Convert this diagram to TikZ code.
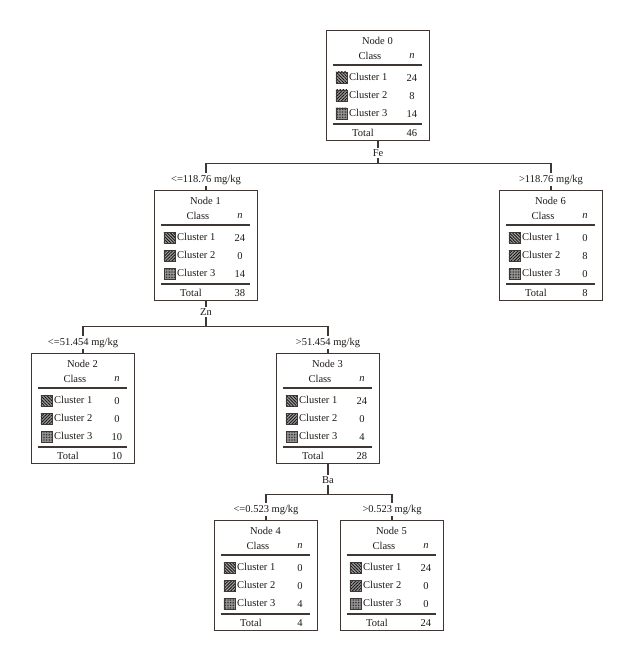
\documentclass[tikz,border=0pt]{standalone}
\usepackage{fontspec}
\setmainfont{Liberation Serif}
\usetikzlibrary{patterns,patterns.meta,positioning}
\definecolor{BoxClr}{RGB}{62,55,52}
\definecolor{TextClr}{RGB}{30,26,24}

\tikzset{
  treebox/.style={draw=BoxClr,line width=1.1pt,minimum width=103pt,minimum height=110pt,anchor=north,inner sep=0pt},
  cell/.style={text=TextClr,font=\fontsize{10.5}{12}\selectfont,inner sep=0pt},
  rule/.style={BoxClr,line width=1.5pt},
  link/.style={BoxClr,line width=1.1pt},
  split/.style={cell,fill=white,inner sep=1.5pt},
  icon/.style={draw=BoxClr,line width=0.4pt,preaction={fill=gray!75},pattern color=black!90},
}

% name, position, title, cluster 1, cluster 2, cluster 3, total
\newcommand{\ClassBox}[7]{%
  \node[treebox] (#1) at (#2) {};
  \begin{scope}[shift={(#1.north west)}]
    \node[cell] at (51.5,11) {#3};
    \node[cell] at (44,26) {Class};
    \node[cell] at (86,26) {\textit{n}};
    \draw[rule] (7,35) -- (96,35);
    \draw[icon,pattern={Lines[angle=-45,distance=2.2pt,line width=0.9pt]}] (10,42) rectangle (21,53);
    \draw[icon,pattern={Lines[angle=45,distance=2.2pt,line width=0.9pt]}] (10,60) rectangle (21,71);
    \draw[icon,pattern={Dots[distance=1.6pt,radius=0.5pt]}] (10,78) rectangle (21,89);
    \node[cell,anchor=west] at (23,47) {Cluster 1};
    \node[cell,anchor=west] at (23,65) {Cluster 2};
    \node[cell,anchor=west] at (23,83) {Cluster 3};
    \node[cell] at (86,48) {#4};
    \node[cell] at (86,66) {#5};
    \node[cell] at (86,84) {#6};
    \draw[rule] (7,94) -- (96,94);
    \node[cell] at (37,103) {Total};
    \node[cell] at (86,103) {#7};
  \end{scope}}

\begin{document}
\begin{tikzpicture}[x=1pt,y=-1pt]
\fill[white] (0,0) rectangle (637,660);
\useasboundingbox (0,0) rectangle (637,660);

\ClassBox{n0}{378,30}{Node 0}{24}{8}{14}{46}
\ClassBox{n1}{206,190}{Node 1}{24}{0}{14}{38}
\ClassBox{n6}{551,190}{Node 6}{0}{8}{0}{8}
\ClassBox{n2}{83,353}{Node 2}{0}{0}{10}{10}
\ClassBox{n3}{328,353}{Node 3}{24}{0}{4}{28}
\ClassBox{n4}{266,520}{Node 4}{0}{0}{4}{4}
\ClassBox{n5}{392,520}{Node 5}{24}{0}{0}{24}

% splits
\draw[link] (n0.south) -- ++(0,22) coordinate (fe) (n1.north) |- (fe) -| (n6.north);
\draw[link] (n1.south) -- ++(0,25) coordinate (zn) (n2.north) |- (zn) -| (n3.north);
\draw[link] (n3.south) -- ++(0,30) coordinate (ba) (n4.north) |- (ba) -| (n5.north);

\node[split,below=7pt of n0] (fel) {Fe};
\node[split,below=6pt of n1] (znl) {Zn};
\node[split,below=11pt of n3] (bal) {Ba};

\node[split,above=4pt of n1] (c1) {<=118.76 mg/kg};
\node[split,above=4pt of n6] (c6) {>118.76 mg/kg};
\node[split,above=4pt of n2] (c2) {<=51.454 mg/kg};
\node[split,above=4pt of n3] (c3) {>51.454 mg/kg};
\node[split,above=4pt of n4] (c4) {<=0.523 mg/kg};
\node[split,above=4pt of n5] (c5) {>0.523 mg/kg};
\end{tikzpicture}
\end{document}
